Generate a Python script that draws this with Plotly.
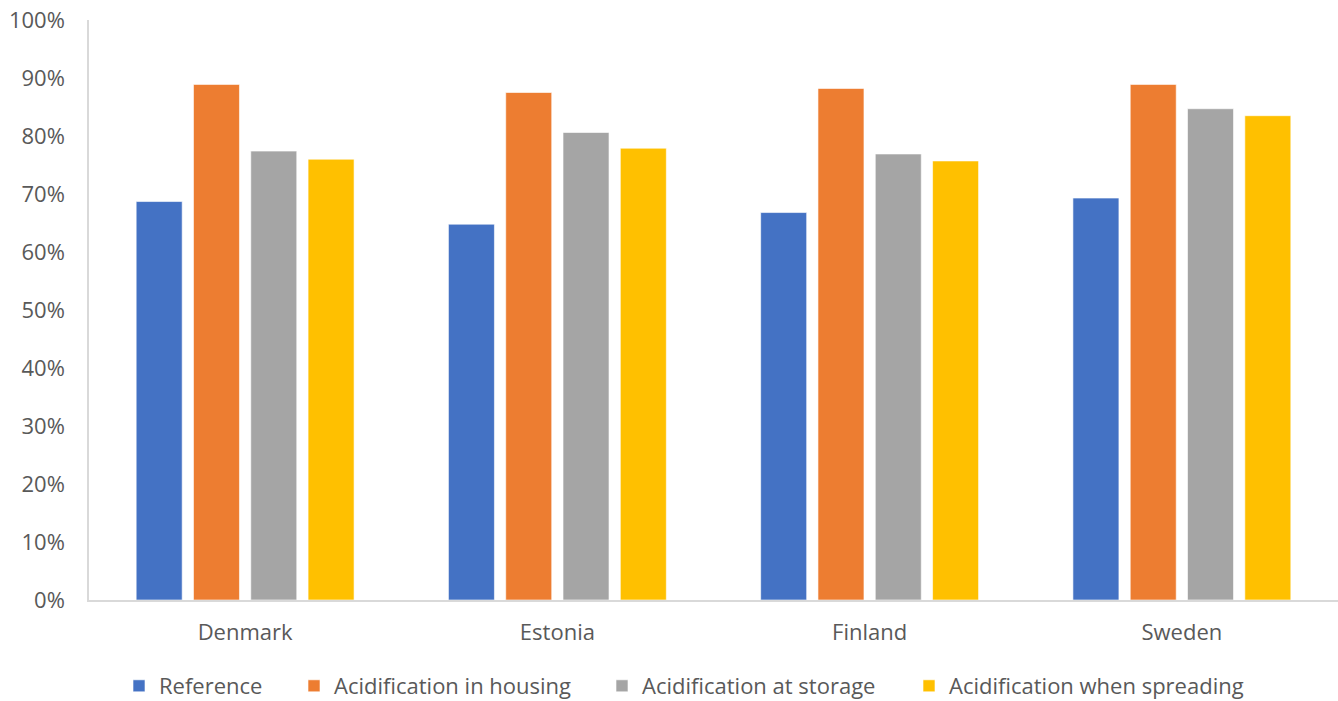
import plotly.graph_objects as go

# Share of ammonia-N retained, by country and acidification strategy
countries = ["Denmark", "Estonia", "Finland", "Sweden"]
reference = [0.687, 0.648, 0.668, 0.693]
acid_housing = [0.889, 0.875, 0.882, 0.889]
acid_storage = [0.774, 0.806, 0.769, 0.847]
acid_spreading = [0.760, 0.779, 0.757, 0.835]

series_names = [
    "Reference",
    "Acidification in housing",
    "Acidification at storage",
    "Acidification when spreading",
]
series_values = [reference, acid_housing, acid_storage, acid_spreading]
series_colors = ["#4472C4", "#ED7D31", "#A5A5A5", "#FFC000"]

# each series gets its own one-entry legend so the entries can be spaced out
legend_ids = ["legend", "legend2", "legend3", "legend4"]
legend_x = [119, 294, 602, 909]

font_family = "Open Sans, Liberation Sans, Arial, sans-serif"
text_color = "#595959"

fig = go.Figure()
for name, vals, color, lid in zip(series_names, series_values, series_colors, legend_ids):
    fig.add_trace(
        go.Bar(
            name=name,
            x=countries,
            y=vals,
            legend=lid,
            marker=dict(color=color, line=dict(color="rgba(255,255,255,0.6)", width=1)),
        )
    )

legend_common = dict(
    orientation="h",
    xref="container",
    yref="container",
    y=(701 - 686) / 701,
    xanchor="left",
    yanchor="middle",
    font=dict(size=22, color=text_color),
    bgcolor="rgba(0,0,0,0)",
)

fig.update_layout(
    width=1338,
    height=701,
    barmode="group",
    bargap=0.266,
    bargroupgap=0.197,
    plot_bgcolor="white",
    paper_bgcolor="white",
    margin=dict(l=89, r=0, t=20, b=101, autoexpand=False),
    font=dict(family=font_family, size=22, color=text_color),
    showlegend=True,
)
for lid, lx in zip(legend_ids, legend_x):
    fig.update_layout({lid: dict(legend_common, x=lx / 1338)})

fig.update_xaxes(
    showline=True,
    linecolor="#D9D9D9",
    linewidth=1.5,
    showgrid=False,
    ticks="outside",
    ticklen=12,
    tickcolor="rgba(0,0,0,0)",
    tickfont=dict(size=22, color=text_color),
)

fig.update_yaxes(
    range=[0, 1],
    dtick=0.1,
    tickformat=".0%",
    showline=True,
    linecolor="#D9D9D9",
    linewidth=1.5,
    showgrid=False,
    zeroline=False,
    ticks="outside",
    ticklen=18,
    tickcolor="rgba(0,0,0,0)",
    tickfont=dict(size=22, color=text_color),
)

fig.write_html("out.html")
